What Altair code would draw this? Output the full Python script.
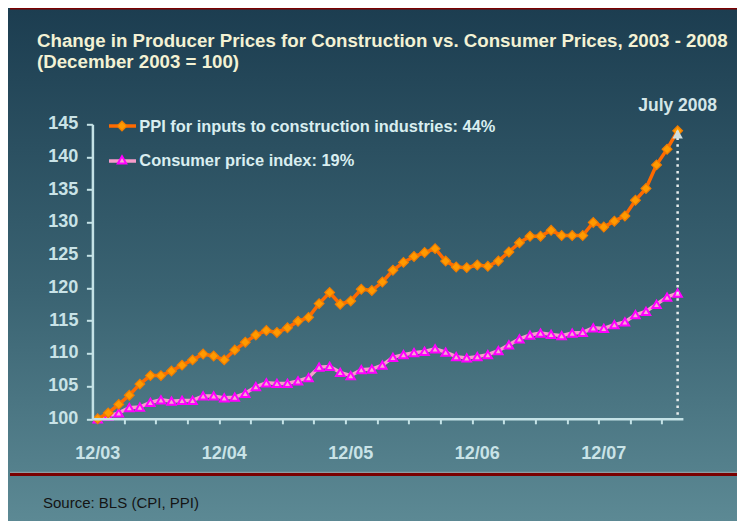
import altair as alt
import pandas as pd

# ---- data ----
months = list(range(56))  # Dec 2003 .. Jul 2008
ppi = [100, 100.9, 102.2, 103.6, 105.3, 106.6, 106.6, 107.3, 108.2, 109.0, 109.9, 109.6,
       109.0, 110.5, 111.7, 112.8, 113.5, 113.2, 113.9, 114.9, 115.5, 117.6, 119.3, 117.5,
       118.0, 119.8, 119.6, 120.9, 122.7, 123.9, 124.8, 125.4, 126.0, 124.1, 123.2, 123.1,
       123.5, 123.3, 124.1, 125.5, 126.9, 127.9, 127.9, 128.8, 128.0, 128.0, 128.0, 130.0,
       129.3, 130.2, 131.0, 133.4, 135.2, 138.8, 141.2, 144.0]
cpi = [100, 100.4, 100.9, 101.7, 101.8, 102.5, 102.9, 102.7, 102.8, 102.8, 103.5, 103.5,
       103.2, 103.3, 103.9, 104.9, 105.5, 105.4, 105.4, 105.8, 106.3, 107.9, 108.0, 107.1,
       106.6, 107.5, 107.6, 108.2, 109.4, 109.8, 110.1, 110.3, 110.7, 110.2, 109.5, 109.3,
       109.5, 109.8, 110.4, 111.3, 112.2, 112.8, 113.1, 112.9, 112.7, 113.1, 113.2, 113.9,
       113.8, 114.4, 114.8, 115.9, 116.4, 117.5, 118.6, 119.2]
year_ticks = [0, 12, 24, 36, 48]
year_labels = ["12/03", "12/04", "12/05", "12/06", "12/07"]
minor_ticks = [2.5 + 3 * k for k in range(18)]
y_ticks = [100, 105, 110, 115, 120, 125, 130, 135, 140, 145]
title_lines = ["Change in Producer Prices for Construction vs. Consumer Prices, 2003 - 2008",
               "(December 2003 = 100)"]
legend_labels = ["PPI for inputs to construction industries: 44%", "Consumer price index: 19%"]
source_text = "Source: BLS (CPI, PPI)"
end_label = "July 2008"

W, H = 590.5, 294.5
PL, PT = 84.4, 116.3
PR = 729 - PL - W
PB = 513 - PT - H

df = pd.DataFrame({"m": months, "ppi": ppi, "cpi": cpi})
one = pd.DataFrame({"a": [0]})

xscale = alt.Scale(domain=[-0.5, 55.5], nice=False, zero=False)
yscale = alt.Scale(domain=[100, 145], nice=False, zero=False)
AXC = "#c4e2e6"
LBL = "#c9e3e7"

xaxis = alt.Axis(values=minor_ticks, labels=False, title=None, grid=False,
                 domainColor=AXC, domainWidth=2.5, tickColor=AXC, tickWidth=2,
                 tickSize=5, zindex=1)
yaxis = alt.Axis(values=y_ticks, labels=False, title=None, grid=False, domainColor=AXC,
                 domainWidth=2.5, tickColor=AXC, tickWidth=2, tickSize=6, zindex=1)


def xe(field):
    return alt.X(field, scale=xscale, axis=xaxis)


def ye(field):
    return alt.Y(field, scale=yscale, axis=yaxis)


grad = alt.LinearGradient(
    gradient="linear",
    stops=[alt.GradientStop(color="#1c3d50", offset=0),
           alt.GradientStop(color="#3a6372", offset=0.55),
           alt.GradientStop(color="#5c8994", offset=1)],
    x1=0, x2=0, y1=0, y2=1)

bg = alt.Chart(one).mark_rect(color=grad).encode(
    x=alt.value(-PL), x2=alt.value(W + PR), y=alt.value(-PT), y2=alt.value(H + PB))
red_top = alt.Chart(one).mark_rect(color="#7a0000").encode(
    x=alt.value(-PL + 2), x2=alt.value(W + PR), y=alt.value(-PT - 1), y2=alt.value(-PT + 1.5))
grey_bot = alt.Chart(one).mark_rect(color="#8d9da3").encode(
    x=alt.value(-PL + 2), x2=alt.value(W + PR), y=alt.value(H + 53), y2=alt.value(H + 54.5))
red_bot = alt.Chart(one).mark_rect(color="#7a0000").encode(
    x=alt.value(-PL + 2), x2=alt.value(W + PR), y=alt.value(H + 54.2), y2=alt.value(H + 57.2))

base = alt.Chart(df)
cpi_line = base.mark_line(color="#f79ccb", strokeWidth=3.5).encode(x=xe("m:Q"), y=ye("cpi:Q"))
cpi_pts = base.mark_point(shape="triangle-up", filled=False, fill="#f7a6d2", fillOpacity=1,
                          stroke="#ff00ff", strokeWidth=2, size=70, opacity=1).encode(
    x=xe("m:Q"), y=ye("cpi:Q"))
ppi_line = base.mark_line(color="#ff6a00", strokeWidth=3.5).encode(x=xe("m:Q"), y=ye("ppi:Q"))
ppi_pts = base.mark_point(shape="diamond", filled=True, color="#ff9a00", stroke="#f07c00",
                          strokeWidth=1.2, size=95, opacity=1).encode(x=xe("m:Q"), y=ye("ppi:Q"))

last = pd.DataFrame({"m": [months[-1]], "ppi": [ppi[-1]], "lo": [100], "lab": [end_label]})
drop = alt.Chart(last).mark_rule(color="#e6ecec", strokeWidth=2.5, strokeDash=[2.5, 4.2]).encode(
    x=xe("m:Q"), y=ye("ppi:Q"), y2="lo:Q")
cap = alt.Chart(last).mark_point(shape="triangle-up", filled=True, color="#cfdcdc",
                                 size=110, opacity=1, yOffset=3).encode(x=xe("m:Q"), y=ye("ppi:Q"))
end_txt = alt.Chart(last).mark_text(font="Liberation Sans", fontSize=17.5, fontWeight="bold",
                                    color="#d4e6e8", baseline="alphabetic", align="center").encode(
    x=xe("m:Q"), y=alt.value(-13.6), text="lab:N")

yl = pd.DataFrame({"m": year_ticks, "lab": year_labels})
xlabels = alt.Chart(yl).mark_text(font="Liberation Sans", fontSize=18, fontWeight="bold",
                                  color=LBL, baseline="alphabetic", align="center").encode(
    x=xe("m:Q"), y=alt.value(H + 40.2), text="lab:N")

yt = pd.DataFrame({"v": y_ticks})
ylabels = alt.Chart(yt).mark_text(font="Liberation Sans", fontSize=18, fontWeight="bold",
                                  color=LBL, baseline="middle", align="right").encode(
    x=alt.value(-14), y=ye("v:Q"), text=alt.Text("v:Q", format="d"))

tl = pd.DataFrame({"t": title_lines, "yy": [-77.6, -56.3]})
title = alt.Chart(tl).mark_text(font="Liberation Sans", fontSize=18.7, fontWeight="bold",
                                color="#f3f2d4", baseline="alphabetic", align="left").encode(
    x=alt.value(-55.4), y=alt.Y("yy:Q", scale=None), text="t:N")

lg = pd.DataFrame({"t": legend_labels, "yy": [8.0, 41.4]})
leg_text = alt.Chart(lg).mark_text(font="Liberation Sans", fontSize=16.4, fontWeight="bold",
                                   color="#d9eef0", baseline="alphabetic", align="left").encode(
    x=alt.value(46.9), y=alt.Y("yy:Q", scale=None), text="t:N")
leg_l1 = alt.Chart(one).mark_rule(color="#ff6a00", strokeWidth=3.5).encode(
    x=alt.value(16.6), x2=alt.value(43.6), y=alt.value(1.7))
leg_p1 = alt.Chart(one).mark_point(shape="diamond", filled=True, color="#ff9a00", stroke="#f07c00",
                                   strokeWidth=1.2, size=95, opacity=1).encode(
    x=alt.value(29.6), y=alt.value(1.7))
leg_l2 = alt.Chart(one).mark_rule(color="#f79ccb", strokeWidth=3.5).encode(
    x=alt.value(16.6), x2=alt.value(43.6), y=alt.value(36.7))
leg_p2 = alt.Chart(one).mark_point(shape="triangle-up", filled=False, fill="#f7a6d2", fillOpacity=1,
                                   stroke="#ff00ff", strokeWidth=2, size=70, opacity=1).encode(
    x=alt.value(29.6), y=alt.value(35.5))

src = alt.Chart(pd.DataFrame({"t": [source_text]})).mark_text(
    font="Liberation Sans", fontSize=15, color="#141414", baseline="alphabetic",
    align="left").encode(x=alt.value(-49.4), y=alt.value(383.5), text="t:N")

chart = alt.layer(
    bg, red_top, grey_bot, red_bot, cpi_line, cpi_pts, ppi_line, ppi_pts, drop, cap,
    end_txt, xlabels, ylabels, title, leg_l1, leg_p1, leg_l2, leg_p2, leg_text, src
).properties(
    width=W, height=H,
    autosize=alt.AutoSizeParams(type="none"),
    padding={"left": PL, "top": PT, "right": PR, "bottom": PB},
).configure_view(stroke=None).configure(background="#ffffff")

chart.save("out.html", embed_options={"renderer": "svg", "actions": False})
